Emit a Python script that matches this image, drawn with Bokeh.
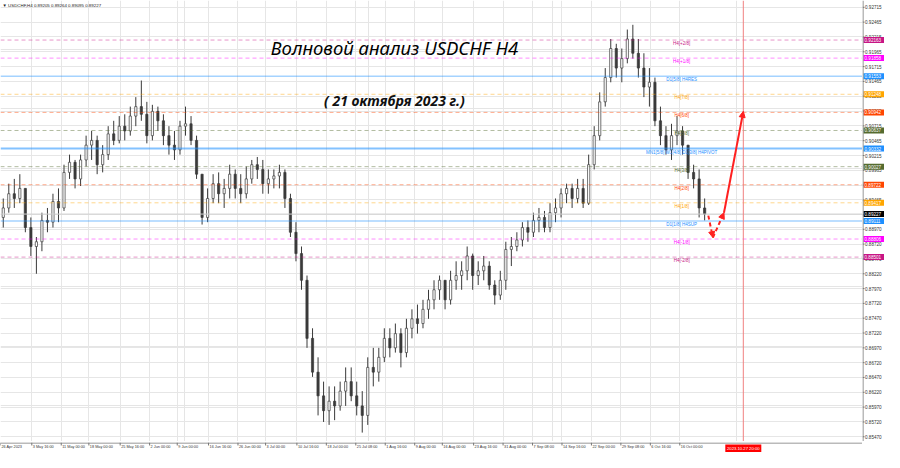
from bokeh.plotting import figure
from bokeh.models import (Range1d, FixedTicker, Grid, Span, Arrow, NormalHead,
                          ColumnDataSource, Label, Spacer)
from bokeh.layouts import column, row
from bokeh.core.properties import value
from bokeh.embed import file_html
from bokeh.resources import INLINE

# ---------------- data (daily candles) ----------------
opens = [0.8917,0.8933,0.8957,0.8949,0.8966,0.8900,0.8868,0.8876,0.8912,0.8909,
         0.8944,0.8933,0.8993,0.9010,0.8982,0.9014,0.9039,0.9047,0.9006,0.9023,
         0.9058,0.9047,0.9071,0.9063,0.9088,0.9104,0.9091,0.9055,0.9096,0.9080,
         0.9055,0.9039,0.9031,0.9071,0.9075,0.9047,0.8990,0.8917,0.8949,0.8974,
         0.8957,0.8966,0.8990,0.8966,0.8957,0.8982,0.9006,0.8998,0.8974,0.8982,
         0.8987,0.8993,0.8949,0.8892,0.8856,0.8811,0.8713,0.8656,0.8616,0.8591,
         0.8607,0.8599,0.8624,0.8640,0.8616,0.8599,0.8583,0.8664,0.8656,0.8681,
         0.8713,0.8697,0.8721,0.8689,0.8730,0.8746,0.8738,0.8762,0.8778,0.8795,
         0.8811,0.8778,0.8811,0.8819,0.8827,0.8852,0.8819,0.8827,0.8835,0.8803,
         0.8786,0.8811,0.8863,0.8868,0.8879,0.8900,0.8892,0.8912,0.8917,0.8900,
         0.8925,0.8933,0.8957,0.8966,0.8949,0.8966,0.8941,0.9006,0.9055,0.9112,
         0.9153,0.9202,0.9169,0.9185,0.9218,0.9194,0.9169,0.9137,0.9145,0.9080,
         0.9055,0.9031,0.9055,0.9063,0.9039,0.8993,0.8982,0.8933]
highs = [0.8949,0.8974,0.8982,0.8990,0.8966,0.8917,0.8884,0.8925,0.8933,0.8957,
         0.8966,0.9006,0.9023,0.9014,0.9023,0.9055,0.9063,0.9055,0.9039,0.9071,
         0.9080,0.9088,0.9091,0.9104,0.9120,0.9148,0.9112,0.9107,0.9104,0.9091,
         0.9071,0.9063,0.9080,0.9104,0.9088,0.9055,0.8990,0.8966,0.8990,0.8993,
         0.8982,0.9006,0.8998,0.8990,0.9003,0.9014,0.9019,0.9014,0.8998,0.8998,
         0.9006,0.8998,0.8957,0.8909,0.8868,0.8819,0.8730,0.8681,0.8640,0.8632,
         0.8632,0.8640,0.8664,0.8664,0.8640,0.8624,0.8681,0.8697,0.8697,0.8730,
         0.8730,0.8738,0.8730,0.8746,0.8762,0.8770,0.8778,0.8795,0.8811,0.8819,
         0.8811,0.8827,0.8843,0.8843,0.8868,0.8856,0.8843,0.8852,0.8843,0.8811,
         0.8827,0.8876,0.8884,0.8892,0.8909,0.8912,0.8925,0.8933,0.8928,0.8941,
         0.8949,0.8966,0.8974,0.8974,0.8982,0.8982,0.9023,0.9071,0.9128,0.9169,
         0.9218,0.9210,0.9202,0.9234,0.9242,0.9218,0.9194,0.9169,0.9153,0.9104,
         0.9071,0.9075,0.9088,0.9071,0.9039,0.9006,0.8998,0.8949]
lows = [0.8900,0.8925,0.8933,0.8941,0.8892,0.8852,0.8822,0.8860,0.8892,0.8900,
        0.8909,0.8928,0.8982,0.8966,0.8970,0.9003,0.9014,0.8990,0.8993,0.9014,
        0.9039,0.9042,0.9047,0.9055,0.9071,0.9080,0.9042,0.9047,0.9063,0.9039,
        0.9023,0.9014,0.9023,0.9055,0.9039,0.8982,0.8905,0.8909,0.8941,0.8941,
        0.8933,0.8949,0.8949,0.8941,0.8949,0.8974,0.8982,0.8957,0.8957,0.8966,
        0.8966,0.8933,0.8884,0.8843,0.8795,0.8697,0.8648,0.8583,0.8572,0.8567,
        0.8575,0.8591,0.8599,0.8607,0.8583,0.8554,0.8567,0.8632,0.8640,0.8673,
        0.8681,0.8689,0.8664,0.8681,0.8713,0.8721,0.8730,0.8746,0.8762,0.8778,
        0.8762,0.8770,0.8795,0.8795,0.8811,0.8795,0.8803,0.8811,0.8795,0.8770,
        0.8778,0.8795,0.8835,0.8860,0.8868,0.8876,0.8884,0.8892,0.8892,0.8892,
        0.8909,0.8917,0.8941,0.8933,0.8941,0.8933,0.8938,0.8998,0.9047,0.9104,
        0.9145,0.9153,0.9145,0.9177,0.9185,0.9153,0.9120,0.9104,0.9071,0.9039,
        0.9023,0.9014,0.9039,0.9023,0.8982,0.8966,0.8917,0.8912]
closes = [0.8933,0.8957,0.8949,0.8966,0.8900,0.8868,0.8876,0.8912,0.8909,0.8944,
          0.8933,0.8993,0.9010,0.8982,0.9014,0.9039,0.9047,0.9006,0.9023,0.9058,
          0.9047,0.9071,0.9063,0.9088,0.9104,0.9091,0.9055,0.9096,0.9080,0.9055,
          0.9039,0.9031,0.9071,0.9075,0.9047,0.8990,0.8917,0.8949,0.8974,0.8957,
          0.8966,0.8990,0.8966,0.8957,0.8982,0.9006,0.8998,0.8974,0.8982,0.8987,
          0.8993,0.8949,0.8892,0.8856,0.8811,0.8713,0.8656,0.8616,0.8591,0.8607,
          0.8599,0.8624,0.8640,0.8616,0.8599,0.8583,0.8664,0.8656,0.8681,0.8713,
          0.8697,0.8721,0.8689,0.8730,0.8746,0.8738,0.8762,0.8778,0.8795,0.8811,
          0.8778,0.8811,0.8819,0.8827,0.8852,0.8819,0.8827,0.8835,0.8803,0.8786,
          0.8811,0.8863,0.8868,0.8879,0.8900,0.8892,0.8912,0.8917,0.8900,0.8925,
          0.8933,0.8957,0.8966,0.8949,0.8966,0.8941,0.9006,0.9055,0.9112,0.9153,
          0.9202,0.9169,0.9185,0.9218,0.9194,0.9169,0.9137,0.9145,0.9080,0.9055,
          0.9031,0.9055,0.9063,0.9039,0.8993,0.8982,0.8933,0.89227]

BARS_PER_DAY = 6  # x axis counted in H4 bars from 26 Apr 2023 00:00

time_ticks = [0, 34, 66, 96, 130, 162, 192, 226, 258, 288, 322, 354, 386, 418,
              450, 480, 514, 546, 578, 610, 642, 674, 706, 738]
time_labels = ["26 Apr 2023", "3 May 16:00", "11 May 00:00", "18 May 00:00",
               "25 May 16:00", "2 Jun 00:00", "9 Jun 00:00", "16 Jun 16:00",
               "26 Jun 00:00", "3 Jul 00:00", "10 Jul 16:00", "18 Jul 00:00",
               "25 Jul 08:00", "1 Aug 16:00", "9 Aug 00:00", "16 Aug 00:00",
               "23 Aug 16:00", "31 Aug 00:00", "7 Sep 08:00", "14 Sep 16:00",
               "22 Sep 00:00", "29 Sep 08:00", "6 Oct 16:00", "16 Oct 00:00"]

price_ticks = [0.92715, 0.92465, 0.92215, 0.91965, 0.91715, 0.91465, 0.91215,
               0.90965, 0.90715, 0.90465, 0.90215, 0.89965, 0.89715, 0.89465,
               0.89215, 0.88970, 0.88720, 0.88470, 0.88220, 0.87970, 0.87720,
               0.87470, 0.87220, 0.86970, 0.86720, 0.86470, 0.86220, 0.85970,
               0.85720, 0.85470]

level_prices = [0.92163, 0.91858, 0.91553, 0.91248, 0.90942, 0.90637, 0.90332,
                0.90027, 0.89722, 0.89417, 0.89111, 0.88806, 0.88501]
level_names = ["H4[+2/8]", "H4[+1/8]", "D1[5/8] H4RES", "H4[7/8]", "H4[6/8]",
               "H4[5/8]", "MN1[5/8] W1[4/8] D1[3/8] H4PIVOT", "H4[3/8]",
               "H4[2/8]", "H4[1/8]", "D1[1/8] H4SUP", "H4[-1/8]", "H4[-2/8]"]
level_colors = ["#C71585", "#FF00FF", "#1E90FF", "#FFA500", "#FF4500", "#556B2F",
                "#1E90FF", "#556B2F", "#FF4500", "#FFA500", "#1E90FF", "#FF00FF",
                "#C71585"]
level_kind = ["dash", "dash", "solid", "dash", "dash", "dash", "pivot", "dash",
              "dash", "dash", "solid", "dash", "dash"]

header_ohlc = [0.89205, 0.89264, 0.89095, 0.89227]
last_price = 0.89227

fc_x = [769, 774, 786, 807]
fc_y = [0.8920, 0.8883, 0.8925, 0.9096]
vline_x = 807
vline_label = "2023.10.27 20:00"

title_text = "Волновой анализ USDCHF H4"
subtitle_text = "( 21 октября 2023 г.)"

# ---------------- layout sizes ----------------
MAIN_W, MAIN_H = 862, 441
SIDE_W, AXIS_H = 22, 11
X_END = 936.5
Y_START, Y_END = 0.85390, 0.92830
FONT = "Liberation Sans"

# ---------------- main chart ----------------
p = figure(width=MAIN_W, height=MAIN_H, x_range=Range1d(0, X_END),
           y_range=Range1d(Y_START, Y_END), output_backend="svg",
           toolbar_location=None, x_axis_location=None, y_axis_location=None,
           min_border=0)
p.outline_line_color = None
p.add_layout(Grid(dimension=0, ticker=FixedTicker(ticks=time_ticks),
                  grid_line_color="#e6e6e6"))
p.add_layout(Grid(dimension=1, ticker=FixedTicker(ticks=price_ticks),
                  grid_line_color="#e6e6e6"))

for lp, col, kind in zip(level_prices, level_colors, level_kind):
    if kind == "pivot":
        p.add_layout(Span(location=lp, dimension="width", line_color=col,
                          line_alpha=0.55, line_width=2))
    elif kind == "solid":
        p.add_layout(Span(location=lp, dimension="width", line_color=col,
                          line_alpha=0.4, line_width=1.5))
    else:
        p.add_layout(Span(location=lp, dimension="width", line_color=col,
                          line_alpha=0.45, line_width=1, line_dash="4 3"))

p.add_layout(Span(location=last_price, dimension="width", line_color="#d0d0d0",
                  line_width=1))
p.add_layout(Span(location=vline_x, dimension="height", line_color="#F08080",
                  line_width=1))

xs = [i * BARS_PER_DAY + BARS_PER_DAY / 2 for i in range(len(closes))]
up = [c >= o for o, c in zip(opens, closes)]
src = ColumnDataSource(dict(
    x=xs, high=highs, low=lows,
    top=[max(o, c) for o, c in zip(opens, closes)],
    bottom=[min(o, c) for o, c in zip(opens, closes)],
    fill=["white" if u else "#3a3a3a" for u in up]))
p.segment(x0="x", y0="high", x1="x", y1="low", source=src,
          line_color="#3a3a3a", line_width=1)
p.vbar(x="x", width=2.4, top="top", bottom="bottom", source=src,
       fill_color="fill", line_color="#3a3a3a", line_width=0.7)

p.text(x=[740] * len(level_prices), y=level_prices, text=level_names,
       text_color=level_colors, text_font_size="4.5px",
       text_font=value(FONT), text_align="center",
       text_baseline="top", y_offset=1)

for i in range(len(fc_x) - 1):
    dashed = i < len(fc_x) - 2
    p.add_layout(Arrow(x_start=fc_x[i], y_start=fc_y[i], x_end=fc_x[i + 1],
                       y_end=fc_y[i + 1], line_color="#FF2020", line_width=2,
                       line_dash="4 3" if dashed else "solid",
                       end=NormalHead(size=6, fill_color="#FF2020",
                                      line_color="#FF2020")))

p.add_layout(Label(x=0, y=Y_END, x_offset=2, y_offset=-2,
                   text="▼ USDCHF,H4  " + " ".join(f"{v:.5f}" for v in header_ohlc),
                   text_font_size="4.4px", text_font=FONT,
                   text_color="#222222", text_baseline="top", text_align="left"))
p.add_layout(Label(x=428, y=0.92040, text=title_text, text_font_size="18.5px",
                   text_font="Noto Sans", text_font_style="italic",
                   text_color="black", text_align="center",
                   text_baseline="middle"))
p.add_layout(Label(x=428, y=0.91140, text=subtitle_text, text_font_size="14px",
                   text_font="Noto Sans", text_font_style="bold italic",
                   text_color="#111111", text_align="center",
                   text_baseline="middle"))

# ---------------- right price scale ----------------
ps = figure(width=SIDE_W, height=MAIN_H, x_range=Range1d(0, SIDE_W),
            y_range=p.y_range, output_backend="svg", toolbar_location=None,
            x_axis_location=None, y_axis_location=None, min_border=0)
ps.outline_line_color = None
ps.grid.visible = False
ps.add_layout(Span(location=0.5, dimension="height",
                   line_color="#777777", line_width=1))
ps.segment(x0=[0] * len(price_ticks), x1=[2] * len(price_ticks),
           y0=price_ticks, y1=price_ticks, line_color="#777777")
ps.text(x=[2.5] * len(price_ticks), y=price_ticks,
        text=[f"{t:.5f}" for t in price_ticks], text_font_size="4.6px",
        text_font=value(FONT), text_color="#333333", text_baseline="middle",
        text_align="left")
box_prices = level_prices + [last_price]
box_colors = level_colors + ["#000000"]
ps.rect(x=[11.5] * len(box_prices), y=box_prices, width=21, height=6,
        height_units="screen", fill_color=box_colors, line_color=None)
ps.text(x=[2] * len(box_prices), y=box_prices,
        text=[f"{v:.5f}" for v in box_prices], text_font_size="4.6px",
        text_font=value(FONT), text_color="white", text_baseline="middle",
        text_align="left")

# ---------------- bottom time scale ----------------
pt = figure(width=MAIN_W, height=AXIS_H, x_range=p.x_range,
            y_range=Range1d(0, AXIS_H), output_backend="svg",
            toolbar_location=None, x_axis_location=None, y_axis_location=None,
            min_border=0)
pt.outline_line_color = None
pt.grid.visible = False
pt.add_layout(Span(location=AXIS_H - 0.5, dimension="width",
                   line_color="#777777", line_width=1))
pt.segment(x0=time_ticks, x1=time_ticks, y0=[AXIS_H] * len(time_ticks),
           y1=[AXIS_H - 3] * len(time_ticks), line_color="#777777")
pt.text(x=time_ticks, y=[AXIS_H - 2.5] * len(time_ticks), text=time_labels,
        x_offset=1, text_font_size="3.8px", text_font=value(FONT),
        text_color="#333333", text_baseline="top", text_align="left")
pt.rect(x=[vline_x], y=[AXIS_H / 2 - 0.5], width=36, height=8,
        width_units="screen", height_units="screen", fill_color="#FF0000",
        line_color=None)
pt.text(x=[vline_x], y=[AXIS_H / 2 - 0.5], text=[vline_label],
        text_font_size="4.2px", text_font=value(FONT), text_color="white",
        text_baseline="middle", text_align="center")

corner = Spacer(width=SIDE_W, height=AXIS_H)
layout = column(row(p, ps), row(pt, corner))

open("out.html", "w").write(file_html(layout, INLINE))
